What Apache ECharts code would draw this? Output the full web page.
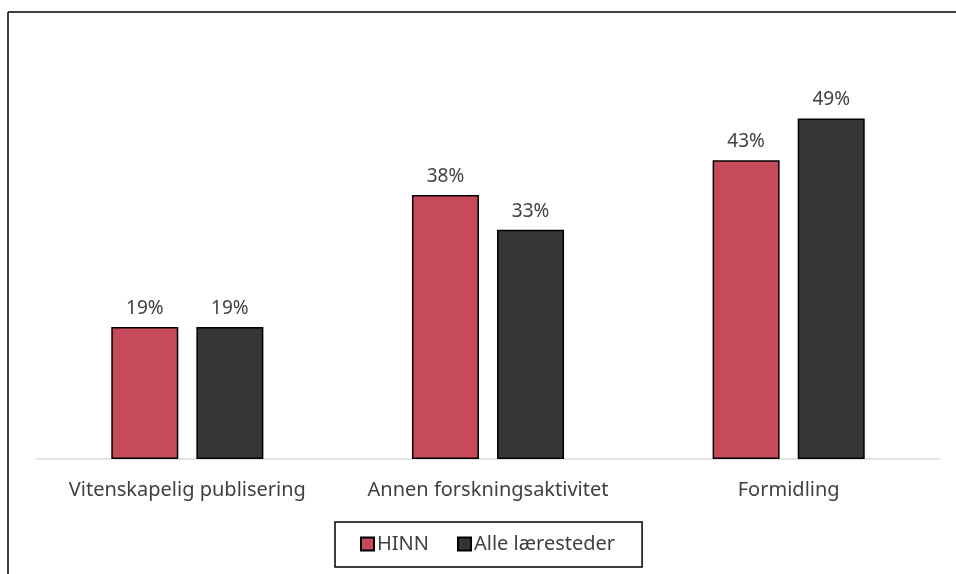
<!DOCTYPE html>
<html>
<head>
<meta charset="utf-8">
<script src="https://cdn.jsdelivr.net/npm/echarts@6/dist/echarts.min.js"></script>
<style>
  html, body { margin: 0; padding: 0; background: #fff; }
  #chart { width: 956px; height: 574px; }
</style>
</head>
<body>
<div id="chart"></div>
<script>
const categories = ['Vitenskapelig publisering', 'Annen forskningsaktivitet', 'Formidling']
const hinn = [19, 38, 43]
const alle = [19, 33, 49]
const seriesNames = ['HINN', 'Alle læresteder']

const FONT = 'Noto Sans'
const TEXT = '#404040'

const myChart = echarts.init(document.getElementById('chart'))

function barSeries (name, data, color) {
  return {
    name: name,
    type: 'bar',
    data: data,
    barWidth: 67,
    barGap: '27%',
    itemStyle: { color: color, borderColor: '#000', borderWidth: 1.5 },
    label: {
      show: true,
      position: 'top',
      distance: 9,
      formatter: '{c}%',
      color: TEXT,
      fontSize: 19,
      fontFamily: FONT
    }
  }
}

const option = {
  animation: false,
  textStyle: { fontFamily: FONT },
  grid: { left: 37, right: 17, top: 42, bottom: 115 },
  xAxis: {
    type: 'category',
    data: categories,
    axisLine: { lineStyle: { color: '#d9d9d9', width: 1.5 } },
    axisTick: { show: false },
    axisLabel: { color: TEXT, fontSize: 20, fontFamily: FONT, margin: 21, interval: 0 }
  },
  yAxis: {
    type: 'value',
    min: 0,
    max: 60,
    show: false,
    splitLine: { show: false }
  },
  legend: {
    data: seriesNames,
    icon: 'rect',
    left: 335,
    top: 522,
    padding: [12, 27, 13, 25],
    borderColor: '#000',
    borderWidth: 1.5,
    itemWidth: 13,
    itemHeight: 13,
    itemGap: 28,
    textStyle: { color: TEXT, fontSize: 20, fontFamily: FONT, padding: [0, 0, 0, -2] }
  },
  graphic: [
    { type: 'line', shape: { x1: 8, y1: 12, x2: 956, y2: 12 }, style: { stroke: '#000', lineWidth: 1.5 } },
    { type: 'line', shape: { x1: 8, y1: 12, x2: 8, y2: 574 }, style: { stroke: '#000', lineWidth: 1.5 } }
  ],
  series: [
    barSeries(seriesNames[0], hinn, '#C64A5A'),
    barSeries(seriesNames[1], alle, '#363636')
  ]
}

myChart.setOption(option)
</script>
</body>
</html>
